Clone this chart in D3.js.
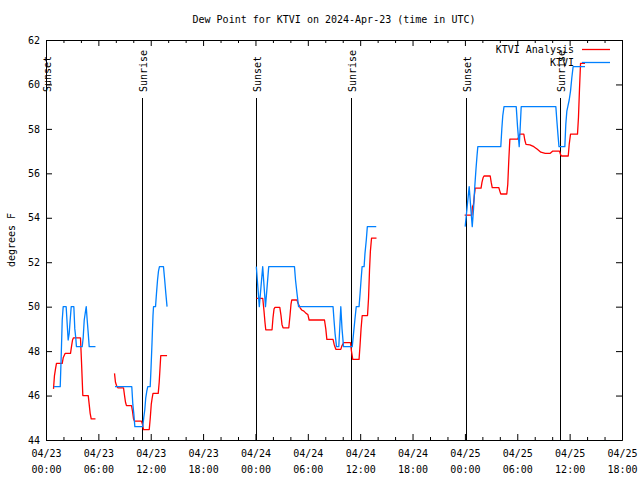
<!DOCTYPE html>
<html><head><meta charset="utf-8">
<script src="https://cdn.jsdelivr.net/npm/d3@7"></script>
<style>
body{margin:0;background:#fff;}
svg text{font-family:"DejaVu Sans Mono",monospace;font-size:10px;fill:#000;}
</style></head><body>
<svg id="chart" width="640" height="480"></svg>
<script>
const chartTitle = "Dew Point for KTVI on 2024-Apr-23 (time in UTC)";
const yAxisLabel = "degrees F";
const seriesNames = ["KTVI Analysis", "KTVI"];
const seriesColors = ["#ff0000", "#0080ff"];
const xTickHours = [0, 6, 12, 18, 24, 30, 36, 42, 48, 54, 60, 66];
const xTickDates = ["04/23","04/23","04/23","04/23","04/24","04/24","04/24","04/24","04/25","04/25","04/25","04/25"];
const xTickTimes = ["00:00","06:00","12:00","18:00","00:00","06:00","12:00","18:00","00:00","06:00","12:00","18:00"];
const xMinorHours = [2,4,8,10,14,16,20,22,26,28,32,34,38,40,44,46,50,52,56,58,62,64];
const yTicks = [44, 46, 48, 50, 52, 54, 56, 58, 60, 62];
const sunEvents = ["Sunset", "Sunrise", "Sunset", "Sunrise", "Sunset", "Sunrise"];
const sunHours = [0.05, 10.97, 24.07, 34.93, 48.08, 58.9];

// hours since 2024-04-23 00:00 UTC, dew point (F); null = gap
const analysisSeries = [
 [0.86,46.3],[0.97,46.9],[1.09,47.2],[1.20,47.45],[1.86,47.45],[1.97,47.7],[2.20,47.9],[2.81,47.9],[2.92,48.2],[3.04,48.5],[3.15,48.6],[3.95,48.6],[4.07,47.5],[4.22,46.0],[4.84,46.0],[4.95,45.6],[5.06,45.2],[5.18,44.95],[5.67,44.95],
 [6.5,null],
 [7.85,47.0],[7.96,46.6],[8.08,46.45],[8.23,46.35],[8.88,46.35],[9.0,46.0],[9.11,45.7],[9.22,45.55],[9.80,45.55],[9.91,45.3],[10.03,44.95],[10.14,44.85],[10.94,44.85],[11.06,44.7],[11.17,44.47],[11.83,44.47],[11.95,45.0],[12.06,45.6],[12.17,45.9],[12.26,46.1],[12.86,46.1],[12.97,46.6],[13.09,47.4],[13.15,47.8],[13.87,47.8],
 [18,null],
 [24.12,50.37],[24.84,50.37],[24.98,49.8],[25.09,49.3],[25.18,48.96],[25.90,48.96],[26.01,49.5],[26.13,49.9],[26.24,49.97],[26.79,49.97],[26.93,49.6],[27.04,49.2],[27.16,49.05],[27.82,49.05],[27.96,49.6],[28.07,50.1],[28.16,50.3],[28.76,50.3],[28.88,50.15],[29.0,50.05],[29.12,49.95],[29.3,49.85],[29.55,49.8],[29.8,49.7],[30.0,49.65],[30.15,49.4],[31.91,49.4],[32.06,49.0],[32.18,48.53],[32.89,48.53],[33.02,48.3],[33.21,48.08],[33.78,48.08],[33.92,48.25],[34.12,48.38],[34.89,48.38],[35.0,48.0],[35.15,47.63],[35.87,47.63],[35.99,48.3],[36.10,49.0],[36.23,49.6],[36.84,49.6],[36.96,50.4],[37.07,51.65],[37.17,52.5],[37.3,53.08],[37.87,53.08],
 [42,null],
 [47.97,54.12],[48.80,54.12],[48.86,54.5],[48.98,54.6],[49.08,55.0],[49.18,55.33],[49.85,55.33],[49.96,55.6],[50.08,55.8],[50.19,55.88],[50.90,55.88],[51.01,55.6],[51.13,55.36],[51.88,55.36],[52.0,55.2],[52.11,55.07],[52.80,55.07],[52.91,55.5],[53.03,56.6],[53.15,57.54],[54.06,57.54],[54.17,57.65],[54.29,57.76],[54.75,57.76],[54.86,57.5],[55.0,57.3],[55.45,57.28],[55.9,57.2],[56.3,57.08],[56.7,56.95],[57.2,56.9],[57.78,56.9],[58.07,57.0],[58.84,57.0],[58.95,56.85],[59.07,56.78],[59.84,56.78],[59.95,57.3],[60.10,57.76],[60.90,57.76],[61.01,58.5],[61.13,59.8],[61.25,60.95],[61.76,60.95]
];
const ktviSeries = [
 [0.89,46.4],[1.63,46.4],[1.74,47.75],[1.86,49.4],[1.97,50.0],[2.31,50.0],[2.43,49.2],[2.54,48.5],[2.66,48.8],[2.77,49.4],[2.89,50.0],[3.19,50.0],[3.30,49.0],[3.41,48.6],[3.49,48.2],[4.15,48.2],[4.26,48.6],[4.38,49.4],[4.53,49.8],[4.61,50.0],[4.72,49.4],[4.84,48.8],[4.95,48.2],[5.67,48.2],
 [6.5,null],
 [7.91,46.4],[9.83,46.4],[9.95,45.6],[10.06,45.2],[10.18,44.6],[11.09,44.6],[11.2,45.0],[11.32,45.36],[11.43,45.9],[11.55,46.2],[11.66,46.4],[11.94,46.4],[12.03,47.2],[12.15,48.4],[12.26,49.6],[12.32,50.0],[12.55,50.0],[12.66,50.6],[12.78,51.2],[12.89,51.6],[13.0,51.8],[13.46,51.8],[13.6,51.2],[13.73,50.6],[13.87,50.0],
 [18,null],
 [24.10,51.8],[24.44,50.0],[24.83,51.8],[25.15,50.0],[25.52,51.8],[28.47,51.8],[28.59,51.2],[28.76,50.6],[28.94,50.0],[32.89,50.0],[33.0,49.4],[33.12,48.8],[33.29,48.2],[33.55,48.2],[33.78,50.0],[33.92,49.0],[34.09,48.2],[35.09,48.2],[35.24,48.8],[35.39,49.4],[35.55,50.0],[35.87,50.0],[35.99,50.6],[36.1,51.2],[36.22,51.8],[36.45,51.8],[36.55,52.4],[36.7,53.0],[36.82,53.6],[37.84,53.6],
 [42,null],
 [48.03,53.6],[48.26,54.5],[48.49,55.4],[48.66,54.5],[48.84,53.6],[48.99,54.4],[49.13,55.4],[49.27,56.2],[49.39,56.8],[49.48,57.2],[52.11,57.2],[52.23,58.0],[52.34,58.6],[52.48,59.0],[53.88,59.0],[54.03,58.1],[54.22,57.2],[54.34,58.1],[54.45,59.0],[58.42,59.0],[58.53,58.4],[58.65,57.8],[58.78,57.2],[59.45,57.2],[59.56,58.2],[59.68,58.8],[59.79,59.0],[59.95,59.3],[60.1,59.7],[60.25,60.3],[60.4,60.8],[61.76,60.8]
];

const svg = d3.select("#chart");
svg.append("rect").attr("width",640).attr("height",480).attr("fill","#fff");

const x = d3.scaleLinear().domain([0, 66]).range([46, 622]);
const y = d3.scaleLinear().domain([44, 62]).range([440, 40]);

function styleAxis(g){
  g.attr("font-family","DejaVu Sans Mono").attr("font-size",10);
  g.selectAll(".domain").attr("stroke","#000");
  g.selectAll(".tick line").attr("stroke","#000");
}

// bottom
const gB = svg.append("g").attr("transform","translate(0,440)")
  .call(d3.axisBottom(x).tickValues(xTickHours).tickSize(-6).tickSizeOuter(0).tickFormat(""));
svg.append("g").attr("transform","translate(0,440)")
  .call(d3.axisBottom(x).tickValues(xMinorHours).tickSize(-3).tickSizeOuter(0).tickFormat("")).call(styleAxis);
styleAxis(gB);
gB.selectAll(".tick text").remove();
gB.selectAll(".tick").each(function(d, i){
  const t = d3.select(this).append("text").attr("text-anchor","middle");
  t.append("tspan").attr("x",0).attr("y",17).text(xTickDates[i]);
  t.append("tspan").attr("x",0).attr("y",33).text(xTickTimes[i]);
});
// top
svg.append("g").attr("transform","translate(0,40)")
  .call(d3.axisTop(x).tickValues(xTickHours).tickSize(-6).tickSizeOuter(0).tickFormat("")).call(styleAxis);
svg.append("g").attr("transform","translate(0,40)")
  .call(d3.axisTop(x).tickValues(xMinorHours).tickSize(-3).tickSizeOuter(0).tickFormat("")).call(styleAxis);
// left
const gL = svg.append("g").attr("transform","translate(46,0)")
  .call(d3.axisLeft(y).tickValues(yTicks).tickSize(-6).tickSizeOuter(0).tickPadding(6).tickFormat(d3.format("d")));
styleAxis(gL);
// right
svg.append("g").attr("transform","translate(622,0)")
  .call(d3.axisRight(y).tickValues(yTicks).tickSize(-6).tickSizeOuter(0).tickFormat("")).call(styleAxis);

// title & y label
svg.append("text").attr("x",334).attr("y",23).attr("text-anchor","middle").text(chartTitle);
svg.append("text").attr("transform","translate(15,240) rotate(-90)").attr("text-anchor","middle").text(yAxisLabel);

// sun lines
sunHours.forEach((h, i) => {
  const px = Math.round(x(h)) + 0.5;
  svg.append("line").attr("x1",px).attr("x2",px).attr("y1",98).attr("y2",440)
    .attr("stroke","#000").attr("stroke-width",1);
  svg.append("text").attr("transform",`translate(${px+4.5},92) rotate(-90)`)
    .attr("text-anchor","start").text(sunEvents[i]);
});

// series
const line = d3.line().defined(d => d[1] !== null).x(d => x(d[0])).y(d => y(d[1]));
[analysisSeries, ktviSeries].forEach((s, i) => {
  svg.append("path").datum(s).attr("d", line).attr("fill","none")
    .attr("stroke", seriesColors[i]).attr("stroke-width",1.3).attr("stroke-linejoin","round");
});

// legend
seriesNames.forEach((n, i) => {
  const ly = 49.5 + i*13;
  svg.append("text").attr("x",574).attr("y",ly+3.5).attr("text-anchor","end").text(n);
  svg.append("line").attr("x1",582).attr("x2",610).attr("y1",ly).attr("y2",ly)
    .attr("stroke",seriesColors[i]).attr("stroke-width",1.3);
});
</script>
</body></html>
